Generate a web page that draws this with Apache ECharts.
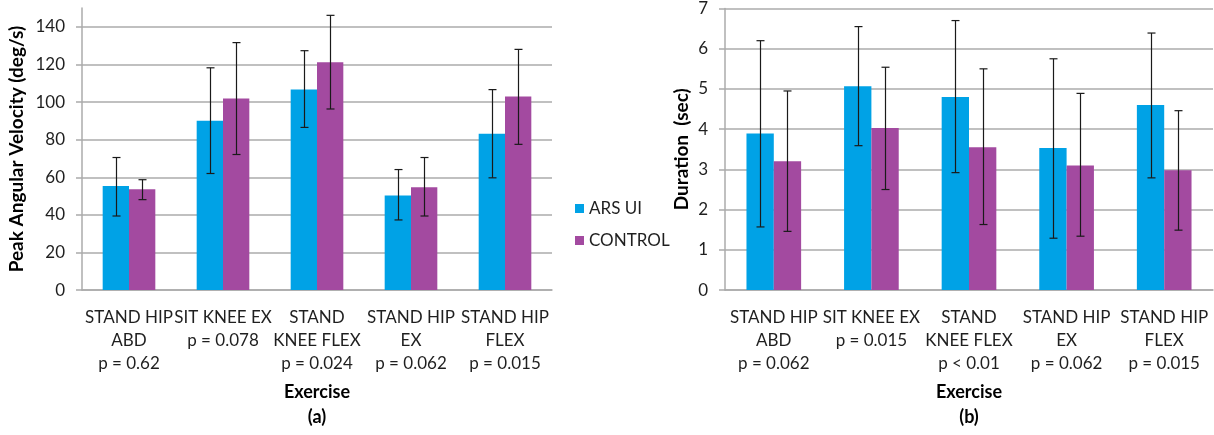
<!DOCTYPE html>
<html>
<head>
<meta charset="utf-8">
<script src="https://cdn.jsdelivr.net/npm/echarts@6/dist/echarts.min.js"></script>
<style>
html,body{margin:0;padding:0;background:#fff;}
#c{width:1214px;height:435px;}
</style>
</head>
<body>
<div id="c"></div>
<script>
// ---- data ----
const categories = ['STAND HIP\nABD', 'SIT KNEE EX', 'STAND\nKNEE FLEX', 'STAND HIP\nEX', 'STAND HIP\nFLEX'];
const pValuesA = ['p = 0.62', 'p = 0.078', 'p = 0.024', 'p = 0.062', 'p = 0.015'];
const pValuesB = ['p = 0.062', 'p = 0.015', 'p < 0.01', 'p = 0.062', 'p = 0.015'];
const seriesNames = ['ARS UI', 'CONTROL'];

// (a) Peak angular velocity (deg/s)
const velArs = [55.3, 90.0, 106.7, 50.3, 83.1];
const velArsHigh = [70.5, 118.2, 127.3, 64.1, 106.6];
const velArsLow = [39.4, 62.0, 86.5, 37.3, 59.7];
const velCon = [53.6, 101.9, 121.2, 54.7, 102.9];
const velConHigh = [58.7, 131.6, 146.1, 70.5, 128.0];
const velConLow = [48.1, 72.1, 96.3, 39.4, 77.5];

// (b) Duration (sec)
const durArs = [3.89, 5.07, 4.80, 3.53, 4.60];
const durArsHigh = [6.20, 6.55, 6.70, 5.75, 6.39];
const durArsLow = [1.57, 3.59, 2.92, 1.29, 2.79];
const durCon = [3.20, 4.03, 3.55, 3.10, 2.98];
const durConHigh = [4.95, 5.54, 5.50, 4.89, 4.46];
const durConLow = [1.46, 2.50, 1.63, 1.34, 1.49];

// ---- style ----
const FONT = 'Lato';
const TXT = '#1f1f1f';
const GRIDC = '#ababab';
const C_ARS = '#00a2e6';
const C_CON = '#a34aa0';
const CAT_GAP = 0.44;

function errData(low, high) {
  return low.map((l, i) => [i, l, high[i]]);
}
function errRender(sign) {
  return function (params, api) {
    const i = api.value(0);
    const lo = api.coord([i, api.value(1)]);
    const hi = api.coord([i, api.value(2)]);
    const band = api.size([1, 0])[0];
    const barW = band * (1 - CAT_GAP) / 2;
    const x = Math.round(lo[0] + sign * barW / 2) + 0.5;
    const cap = 4;
    const st = { stroke: '#1a1a1a', lineWidth: 1.2 };
    return {
      type: 'group',
      children: [
        { type: 'line', shape: { x1: x, y1: hi[1], x2: x, y2: lo[1] }, style: st },
        { type: 'line', shape: { x1: x - cap, y1: hi[1], x2: x + cap, y2: hi[1] }, style: st },
        { type: 'line', shape: { x1: x - cap, y1: lo[1], x2: x + cap, y2: lo[1] }, style: st }
      ]
    };
  };
}

function xAxisCfg(gridIndex, pvals, caption) {
  return {
    type: 'category', gridIndex: gridIndex,
    data: categories.map((c, i) => c + '\n' + pvals[i]),
    axisLine: { lineStyle: { color: GRIDC, width: 1.5 } },
    axisTick: { show: false },
    axisLabel: { interval: 0, margin: 16, color: TXT, fontFamily: FONT, fontSize: 17, lineHeight: 23, align: 'center' },
    name: 'Exercise\n' + caption,
    nameLocation: 'middle',
    nameGap: 88,
    nameTextStyle: { color: '#000', fontFamily: FONT, fontSize: 18, fontWeight: 'bold', lineHeight: 25 }
  };
}
function yAxisCfg(gridIndex, max, interval, name, gap, showMax) {
  return {
    type: 'value', gridIndex: gridIndex, min: 0, max: max, interval: interval,
    axisLine: { show: true, lineStyle: { color: GRIDC, width: 1.5 } },
    axisTick: { show: true, length: 6, lineStyle: { color: GRIDC, width: 1.5 } },
    splitLine: { show: true, showMaxLine: showMax, lineStyle: { color: GRIDC, width: 1.5 } },
    axisLabel: { color: TXT, fontFamily: FONT, fontSize: 17, margin: 17, showMaxLabel: showMax },
    name: name,
    nameLocation: 'middle',
    nameRotate: 90,
    nameGap: gap,
    nameTextStyle: { color: '#000', fontFamily: FONT, fontSize: 19, fontWeight: 'bold' }
  };
}
function barS(name, data, color, xi) {
  return {
    type: 'bar', name: name, data: data, xAxisIndex: xi, yAxisIndex: xi,
    barGap: '0%', barCategoryGap: (CAT_GAP * 100) + '%',
    itemStyle: { color: color }, z: 2
  };
}
function errS(name, low, high, sign, xi) {
  return {
    type: 'custom', name: name, xAxisIndex: xi, yAxisIndex: xi,
    data: errData(low, high), encode: { x: 0, y: [1, 2] },
    renderItem: errRender(sign), z: 5, silent: true
  };
}

const chart = echarts.init(document.getElementById('c'), null, { renderer: 'canvas' });
chart.setOption({
  animation: false,
  backgroundColor: '#fff',
  textStyle: { fontFamily: FONT },
  grid: [
    { left: 82, top: 8, width: 470, height: 287 },
    { left: 725, top: 8, width: 488, height: 287 }
  ],
  legend: {
    data: seriesNames,
    orient: 'vertical',
    left: 570, top: 195,
    itemWidth: 9, itemHeight: 9, itemGap: 15,
    icon: 'rect',
    textStyle: { color: TXT, fontFamily: FONT, fontSize: 17 }
  },
  xAxis: [xAxisCfg(0, pValuesA, '(a)'), xAxisCfg(1, pValuesB, '(b)')],
  yAxis: [
    yAxisCfg(0, 150, 20, 'Peak Angular Velocity (deg/s)', 56, false),
    yAxisCfg(1, 7, 1, 'Duration  (sec)', 34, true)
  ],
  series: [
    barS(seriesNames[0], velArs, C_ARS, 0),
    barS(seriesNames[1], velCon, C_CON, 0),
    barS(seriesNames[0], durArs, C_ARS, 1),
    barS(seriesNames[1], durCon, C_CON, 1),
    errS('errA1', velArsLow, velArsHigh, -1, 0),
    errS('errA2', velConLow, velConHigh, 1, 0),
    errS('errB1', durArsLow, durArsHigh, -1, 1),
    errS('errB2', durConLow, durConHigh, 1, 1)
  ]
});
</script>
</body>
</html>
